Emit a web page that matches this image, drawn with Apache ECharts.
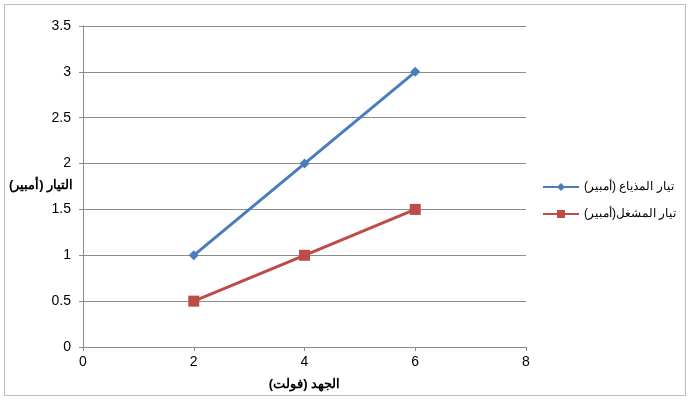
<!DOCTYPE html>
<html><head><meta charset="utf-8">
<script src="https://cdn.jsdelivr.net/npm/echarts@6/dist/echarts.min.js"></script>
<style>html,body{margin:0;padding:0;background:#fff}#c{width:690px;height:400px}</style>
</head><body><div id="c"></div>
<script>
const xValues = [2, 4, 6];
const radioCurrent = [1, 2, 3];
const playerCurrent = [0.5, 1, 1.5];
const seriesNames = ['تيار المذياع (أمبير)', 'تيار المشغل(أمبير)'];
const xTitle = 'الجهد (فولت)';
const yTitle = 'التيار (أمبير)';

const chart = echarts.init(document.getElementById('c'));
const font = 'Liberation Sans, Arial, sans-serif';
chart.setOption({
  animation: false,
  textStyle: {fontFamily: font},
  graphic: [
    {type: 'rect', shape: {x: 4.5, y: 4.5, width: 681, height: 391}, style: {fill: 'none', stroke: '#bdbdbd', lineWidth: 1}},
    {type: 'text', left: 9, top: 179, style: {text: yTitle, fill: '#000', font: 'bold 13px Liberation Sans, Arial, sans-serif'}}
  ],
  grid: {left: 83, right: 164, top: 26, bottom: 53, outerBoundsMode: 'none', containLabel: false},
  legend: {
    orient: 'vertical', left: 537, top: 176, itemGap: 15, itemWidth: 36, itemHeight: 10,
    textStyle: {fontSize: 12, color: '#000', fontFamily: font},
    data: seriesNames
  },
  xAxis: {
    type: 'value', min: 0, max: 8, interval: 2,
    name: xTitle, nameLocation: 'middle', nameGap: 31,
    nameTextStyle: {fontSize: 13, fontWeight: 'bold', color: '#000'},
    axisLine: {show: true, lineStyle: {color: '#8c8c8c'}},
    axisTick: {show: true, length: 4, lineStyle: {color: '#8c8c8c'}},
    axisLabel: {fontSize: 14, color: '#000', margin: 8},
    splitLine: {show: false}
  },
  yAxis: {
    type: 'value', min: 0, max: 3.5, interval: 0.5,
    axisLine: {show: true, lineStyle: {color: '#8c8c8c'}},
    axisTick: {show: true, length: 4, lineStyle: {color: '#8c8c8c'}},
    axisLabel: {fontSize: 14, color: '#000', margin: 12},
    splitLine: {show: true, lineStyle: {color: '#8c8c8c'}}
  },
  series: [
    {name: seriesNames[0], type: 'line', data: xValues.map((x, i) => [x, radioCurrent[i]]),
     symbol: 'diamond', symbolSize: 10, itemStyle: {color: '#4A7EBB'}, lineStyle: {width: 3, color: '#4A7EBB'}},
    {name: seriesNames[1], type: 'line', data: xValues.map((x, i) => [x, playerCurrent[i]]),
     symbol: 'rect', symbolSize: 11, itemStyle: {color: '#BE4B48'}, lineStyle: {width: 3, color: '#BE4B48'}}
  ]
});
</script></body></html>
